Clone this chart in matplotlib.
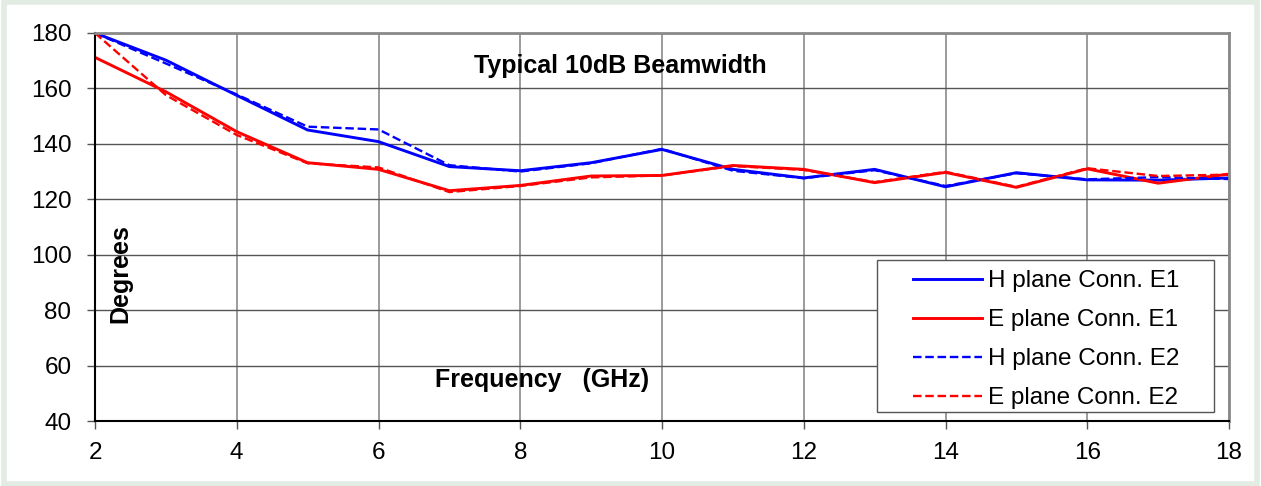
import matplotlib.pyplot as plt
from matplotlib.patches import Rectangle

# frequency points (GHz)
freq = [2, 3, 4, 5, 6, 7, 8, 9, 10, 11, 12, 13, 14, 15, 16, 17, 18]

# 10 dB beamwidth in degrees
h_e1 = [180, 170.2, 157.5, 145.0, 140.8, 131.8, 130.3, 133.2, 138.0, 130.8, 127.7, 130.8, 124.5, 129.6, 127.0, 126.9, 127.7]
e_e1 = [171.2, 158.8, 144.4, 133.2, 130.8, 123.1, 125.0, 128.4, 128.6, 132.2, 130.8, 126.0, 129.7, 124.3, 131.0, 125.8, 129.1]
h_e2 = [180, 169.0, 157.8, 146.2, 145.2, 132.3, 130.0, 133.0, 138.2, 130.3, 127.6, 130.5, 124.8, 129.4, 127.2, 128.0, 127.3]
e_e2 = [180, 157.6, 143.2, 133.0, 131.5, 122.6, 124.8, 127.9, 128.6, 132.0, 130.6, 126.2, 129.9, 124.5, 131.2, 128.4, 128.9]

x_ticks = list(range(2, 19, 2))
y_ticks = list(range(40, 181, 20))

plt.rcParams['font.family'] = ['Liberation Sans', 'DejaVu Sans']

fig = plt.figure(figsize=(12.61, 4.86), dpi=100)
fig.patches.append(Rectangle((0.003, 0.005), 0.994, 0.99, transform=fig.transFigure,
                             fill=False, edgecolor='#e3ece3', linewidth=4))

ax = fig.add_axes([95 / 1261, 1 - 421 / 486, (1229 - 95) / 1261, (421 - 33) / 486])

dash = (0, (3.6, 1.6))
ax.plot(freq, h_e1, color='#0000ff', lw=2.1, label='H plane Conn. E1')
ax.plot(freq, e_e1, color='#ff0000', lw=2.1, label='E plane Conn. E1')
ax.plot(freq, h_e2, color='#0000ff', lw=1.7, ls=dash, label='H plane Conn. E2')
ax.plot(freq, e_e2, color='#ff0000', lw=1.7, ls=dash, label='E plane Conn. E2')

ax.set_xlim(2, 18)
ax.set_ylim(40, 180)
ax.set_xticks(x_ticks)
ax.set_yticks(y_ticks)
ax.tick_params(labelsize=17.5, length=6, width=1, direction='out', color='#555555')
ax.tick_params(axis='x', pad=9)
ax.tick_params(axis='y', pad=11)
ax.yaxis.grid(True, color='#555555', lw=1)
ax.xaxis.grid(True, color='#8a8a8a', lw=1.2)
ax.set_axisbelow(True)

ax.spines['left'].set_color('black')
ax.spines['left'].set_linewidth(1.5)
ax.spines['bottom'].set_color('black')
ax.spines['bottom'].set_linewidth(1.5)
ax.spines['top'].set_color('#8a8a8a')
ax.spines['top'].set_linewidth(2)
ax.spines['right'].set_color('#8a8a8a')
ax.spines['right'].set_linewidth(2)

ax.text((620 - 95) / 1134, (421 - 66) / 388, 'Typical 10dB Beamwidth', transform=ax.transAxes,
        ha='center', va='center', fontsize=18, fontweight='bold')
ax.text((542 - 95) / 1134, (421 - 380) / 388, 'Frequency   (GHz)', transform=ax.transAxes,
        ha='center', va='center', fontsize=18, fontweight='bold')
ax.text((120 - 95) / 1134, (421 - 274) / 388, 'Degrees', transform=ax.transAxes, rotation=90,
        ha='center', va='center', fontsize=18, fontweight='bold')

# legend box drawn by hand, the legend itself without frame
ax.add_patch(Rectangle(((877 - 95) / 1134, (421 - 412) / 388), (1214 - 877) / 1134, (412 - 260) / 388,
                       transform=ax.transAxes, facecolor='white', edgecolor='#555555', lw=1, zorder=4))
leg = ax.legend(loc='upper left', bbox_to_anchor=((913 - 95) / 1134, (421 - 270) / 388),
                fontsize=17.5, frameon=False, handlelength=2.85, labelspacing=0.7,
                borderpad=0, handletextpad=0.25, borderaxespad=0)
leg.set_zorder(5)

fig.savefig('out.png', dpi=100)
